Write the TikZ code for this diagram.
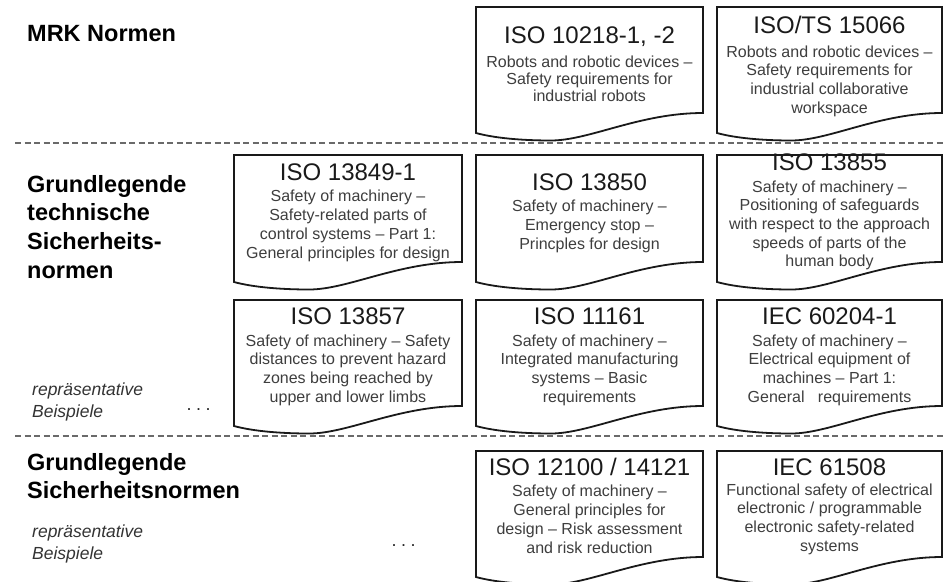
\documentclass[tikz,border=0pt]{standalone}
\usepackage{fontspec}
\setmainfont{Liberation Sans}
\definecolor{ink}{HTML}{1A1A1A}
\definecolor{bodygray}{HTML}{3E3E3E}
\definecolor{rulegray}{HTML}{6A6A6A}

% rows of centred / left-aligned text whose anchor is the first baseline
\newcommand\txtrows[2]{\begin{tabular}[t]{@{}#1@{}}#2\end{tabular}}

% document sheet with a wavy lower edge: left, top, right, lower-left y
\newcommand\docsheet[4]{%
  \pgfmathsetmacro\dw{#3-#1}%
  \draw[sheet] (#1,#2) -- (#3,#2) -- (#3,#4-20)
    .. controls ({#1+0.72*\dw},#4-20) and ({#1+0.5*\dw},#4+7.5) .. ({#1+0.33*\dw},#4+7.5)
    .. controls ({#1+0.2*\dw},#4+7.5) and ({#1+0.08*\dw},#4+5) .. (#1,#4)
    -- cycle;}

\tikzset{
  sheet/.style={draw=black!90, line width=1.8pt, fill=white, line join=miter},
  divider/.style={draw=rulegray, line width=1.1pt, dash pattern=on 6pt off 3.5pt},
  stdtitle/.style={anchor=base, inner sep=0pt, text=ink, font=\fontsize{24}{28}\selectfont},
  stdbody/.style={anchor=base, inner sep=0pt, text=bodygray, font=\fontsize{16}{18.7}\selectfont},
  grouplabel/.style={anchor=base west, inner sep=0pt, text=black, font=\bfseries\fontsize{23.5}{28.7}\selectfont},
  examples/.style={anchor=base west, inner sep=0pt, text=black!80, font=\itshape\fontsize{17.5}{22}\selectfont},
  more/.style={anchor=base, inner sep=0pt, text=black!85, font=\fontsize{18}{20}\selectfont},
}

\begin{document}
\begin{tikzpicture}[x=1pt,y=-1pt]
\useasboundingbox (0,0) rectangle (944,581);

% section dividers
\draw[divider] (15,143) -- (944,143);
\draw[divider] (15,436) -- (944,436);

% sheets, row by row
\docsheet{476}{7}{703}{133}
\docsheet{717}{7}{942}{133}
\docsheet{234}{155}{462}{282}
\docsheet{476}{155}{703}{282}
\docsheet{717}{155}{942}{282}
\docsheet{234}{300}{462}{426}
\docsheet{476}{300}{703}{426}
\docsheet{717}{300}{942}{426}
\docsheet{476}{451}{703}{577}
\docsheet{717}{451}{942}{577}

% group labels on the left
\node[grouplabel] (g-mrk) at (27,41) {MRK Normen};
\node[grouplabel] (g-tech) at (27,192) {\txtrows{l}{Grundlegende\\technische\\Sicherheits-\\normen}};
\node[grouplabel] (g-basic) at (27,470) {\txtrows{l}{Grundlegende\\Sicherheitsnormen}};
\node[examples] (n-tech) at (32,395) {\txtrows{l}{repräsentative\\Beispiele}};
\node[examples] (n-basic) at (32,537) {\txtrows{l}{repräsentative\\Beispiele}};
\node[more] (d-tech) at (198.5,410) {.\hspace{4.5pt}.\hspace{4.5pt}.};
\node[more] (d-basic) at (403.5,546) {.\hspace{4.5pt}.\hspace{4.5pt}.};

% row 1: robot standards
\node[stdtitle] (t-10218) at (589.5,43) {ISO 10218-1, -2};
\node[stdbody, font=\fontsize{16}{17.3}\selectfont] (b-10218) at (589.5,67)
  {\txtrows{c}{Robots and robotic devices –\\Safety requirements for\\industrial robots}};
\node[stdtitle] (t-15066) at (829.5,33) {ISO/TS 15066};
\node[stdbody] (b-15066) at (829.5,57)
  {\txtrows{c}{Robots and robotic devices –\\Safety requirements for\\industrial collaborative\\workspace}};

% row 2
\node[stdtitle] (t-13849) at (348,180) {ISO 13849-1};
\node[stdbody, font=\fontsize{16}{19.2}\selectfont] (b-13849) at (348,201)
  {\txtrows{c}{Safety of machinery –\\Safety-related parts of\\control systems – Part 1:\\General principles for design}};
\node[stdtitle] (t-13850) at (589.5,190) {ISO 13850};
\node[stdbody, font=\fontsize{16}{19.2}\selectfont] (b-13850) at (589.5,211)
  {\txtrows{c}{Safety of machinery –\\Emergency stop –\\Princples for design}};
\node[stdtitle] (t-13855) at (829.5,170) {ISO 13855};
\node[stdbody] (b-13855) at (829.5,192)
  {\txtrows{c}{Safety of machinery –\\Positioning of  safeguards\\with respect to the approach\\speeds of parts of  the\\human body}};

% row 3
\node[stdtitle] (t-13857) at (348,324) {ISO 13857};
\node[stdbody] (b-13857) at (348,346)
  {\txtrows{c}{Safety of machinery – Safety\\distances to prevent hazard\\zones being reached by\\upper and lower limbs}};
\node[stdtitle] (t-11161) at (589.5,324) {ISO 11161};
\node[stdbody] (b-11161) at (589.5,346)
  {\txtrows{c}{Safety of machinery –\\Integrated manufacturing\\systems – Basic\\requirements}};
\node[stdtitle] (t-60204) at (829.5,324) {IEC 60204-1};
\node[stdbody] (b-60204) at (829.5,346)
  {\txtrows{c}{Safety of machinery –\\Electrical equipment of\\machines – Part 1:\\General \ \ requirements}};

% row 4
\node[stdtitle] (t-12100) at (589.5,475) {ISO 12100 / 14121};
\node[stdbody, font=\fontsize{16}{19}\selectfont] (b-12100) at (589.5,496)
  {\txtrows{c}{Safety of machinery –\\General principles for\\design – Risk assessment\\and risk reduction}};
\node[stdtitle] (t-61508) at (829.5,475) {IEC 61508};
\node[stdbody] (b-61508) at (829.5,495)
  {\txtrows{c}{Functional safety of electrical\\electronic / programmable\\electronic safety-related\\systems}};
\end{tikzpicture}
\end{document}
